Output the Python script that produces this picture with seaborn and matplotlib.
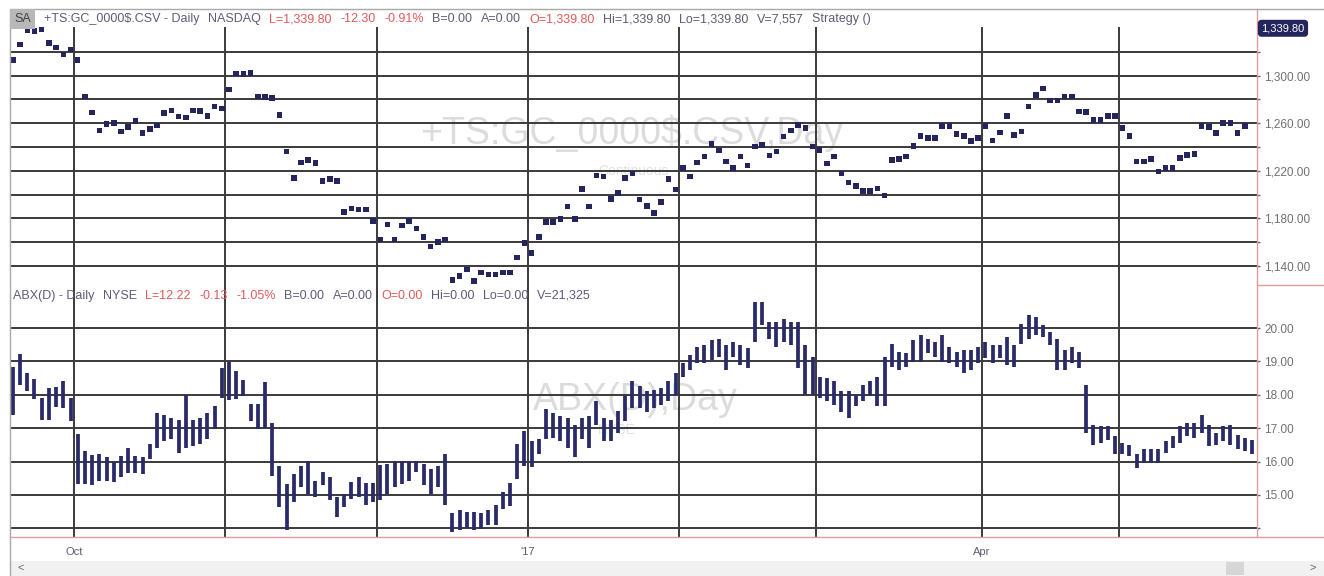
import numpy as np
import pandas as pd
import matplotlib
matplotlib.use('Agg')
import matplotlib.pyplot as plt
import matplotlib.transforms as mtransforms
from matplotlib.lines import Line2D
from matplotlib.patches import Rectangle
import seaborn as sns

sns.set_style("white")
plt.rcParams['font.family'] = ['Liberation Sans', 'DejaVu Sans']

# gold daily close (top panel, dots)
gold_close = [
    1313, 1326, 1338, 1337.6, 1338.7, 1327.5, 1323.6, 1317.8, 1322, 1313,
    1282.3, 1269, 1253.9, 1259.4, 1260, 1253, 1256.6, 1262, 1251.6, 1255.2,
    1258, 1268.4, 1270.6, 1265.6, 1264.7, 1270.6, 1270.3, 1266.1, 1274, 1272.3,
    1288.5, 1301.9, 1301.3, 1302.4, 1282.3, 1281.8, 1281, 1267, 1236.3, 1214,
    1227, 1229.3, 1226.5, 1211.2, 1213.1, 1211.2, 1185.2, 1188.3, 1187.4, 1187.4,
    1177.7, 1162.3, 1174.9, 1162.3, 1174, 1177.7, 1171.5, 1164.5, 1156.2, 1160,
    1162.3, 1128.3, 1131.6, 1137.2, 1127.4, 1134.4, 1133, 1133, 1134.4, 1134.4,
    1147, 1159.5, 1151.1, 1164.3, 1177.1, 1177.1, 1179.6, 1190, 1179.6, 1204.7,
    1190, 1215.9, 1215.3, 1196.4, 1201.4, 1213.9,
    1217.6, 1195.8, 1190.2, 1184.6, 1193.6, 1213.1, 1204.2, 1222.3, 1215.3, 1227.1,
    1232.1, 1242.4, 1237.1, 1227.9, 1222.3, 1232.1, 1224.3, 1240.5, 1241.9, 1232.9,
    1236.3, 1248.8, 1253.9, 1258.6, 1255.8, 1240.5, 1237.7, 1226, 1232.1, 1217.6,
    1210.3, 1207, 1202.8, 1202.8, 1205, 1199.1, 1229.3, 1230.1, 1232.1, 1241,
    1249.4, 1247.4, 1247.4, 1257.8, 1257.8, 1250.8, 1249.4, 1245.2, 1247.4, 1257.8,
    1245.5, 1252.2, 1266.1, 1250.2, 1253, 1274, 1283.7, 1289.3, 1279, 1279,
    1282.3, 1282.3, 1269.8, 1269.2, 1262.8, 1262.8, 1266.1, 1266.1, 1255.8, 1249.4,
    1227.9, 1227.9, 1229.9, 1219.5, 1222.3, 1222.3, 1230.7, 1233.5, 1234.3, 1257.8,
    1256.6, 1251.6, 1260, 1260, 1251.6, 1257.8,
]

# ABX daily high / low (bottom panel, bars)
abx_high = [
    18.84, 19.21, 18.65, 18.47, 17.91, 18.20, 18.22, 18.42, 17.91, 16.82,
    16.32, 16.21, 16.23, 16.13, 15.98, 16.18, 16.42, 16.18, 16.13, 16.52,
    17.46, 17.41, 17.31, 17.26, 18.00, 17.26, 17.31, 17.46, 17.66, 18.79,
    18.99, 18.70, 18.45, 17.71, 17.71, 18.38, 17.16, 15.88, 15.34, 15.63,
    15.88, 16.03, 15.43, 15.68, 15.53, 14.94, 15.02, 15.39, 15.55, 15.36,
    15.36, 15.91, 15.93, 16.03, 16.03, 16.03, 16.03, 15.93, 15.78, 15.88,
    16.23, 14.45, 14.55, 14.50, 14.50, 14.47, 14.55, 14.69, 15.09, 15.36,
    16.52, 16.92, 16.62, 16.69, 17.56, 17.46, 17.36, 17.31, 17.11, 17.31,
    17.36, 17.81, 17.31, 17.26, 17.51, 17.95, 18.40,
    18.25, 18.10, 18.15, 18.20, 18.40, 18.64, 18.94, 19.19, 19.44, 19.50,
    19.63, 19.68, 19.49, 19.58, 19.50, 19.39, 20.77, 20.77, 20.18, 20.18,
    20.28, 20.18, 20.18, 19.49, 19.14, 18.54, 18.50, 18.40, 18.10, 18.10,
    18.00, 18.30, 18.40, 18.54, 19.14, 19.53, 19.29, 19.24, 19.63, 19.78,
    19.68, 19.58, 19.78, 19.44, 19.29, 19.34, 19.34, 19.44, 19.58, 19.49,
    19.49, 19.73, 19.49, 20.13, 20.38, 20.33, 20.08, 19.88, 19.68, 19.34,
    19.44, 19.29, 18.30, 17.11, 17.06, 17.06, 16.76, 16.56, 16.51, 16.22,
    16.37, 16.37, 16.37, 16.61, 16.76, 17.06, 17.16, 17.16, 17.41, 17.11,
    16.86, 17.06, 17.11, 16.81, 16.71, 16.66,
]
abx_low = [
    17.41, 18.30, 18.10, 17.86, 17.26, 17.26, 17.63, 17.61, 17.21, 15.34,
    15.34, 15.29, 15.43, 15.43, 15.38, 15.53, 15.65, 15.65, 15.63, 16.08,
    16.42, 16.62, 16.67, 16.27, 16.42, 16.47, 16.52, 16.67, 16.97, 17.91,
    17.83, 17.86, 17.95, 17.21, 16.97, 17.02, 15.58, 14.64, 13.95, 14.79,
    15.24, 15.04, 14.94, 15.29, 14.84, 14.35, 14.64, 14.89, 14.94, 14.69,
    14.79, 14.84, 15.04, 15.24, 15.34, 15.43, 15.68, 15.29, 15.04, 15.24,
    14.69, 13.90, 13.95, 14.00, 13.95, 13.97, 14.10, 14.10, 14.59, 14.66,
    15.48, 15.88, 15.83, 16.23, 16.67, 16.72, 16.62, 16.42, 16.13, 16.67,
    16.42, 17.11, 16.62, 16.62, 16.87, 17.21, 17.61,
    17.60, 17.50, 17.60, 17.70, 17.80, 18.00, 18.54, 18.74, 18.94, 18.94,
    19.04, 19.14, 18.74, 19.14, 18.89, 18.79, 19.58, 20.08, 19.68, 19.44,
    19.58, 19.49, 18.79, 18.00, 18.00, 17.90, 17.80, 17.70, 17.50, 17.31,
    17.65, 17.80, 17.95, 17.65, 17.65, 18.84, 18.74, 18.84, 18.99, 18.99,
    19.24, 19.14, 18.99, 18.94, 18.84, 18.64, 18.74, 18.94, 19.09, 18.94,
    19.09, 18.89, 18.84, 19.53, 19.68, 19.78, 19.73, 19.49, 18.74, 18.74,
    18.94, 18.79, 16.86, 16.51, 16.56, 16.66, 16.22, 16.22, 16.17, 15.82,
    15.97, 15.97, 15.97, 16.27, 16.42, 16.56, 16.76, 16.71, 16.86, 16.47,
    16.51, 16.61, 16.51, 16.37, 16.32, 16.22,
]

# month boundaries (bar index) and the labelled ones
month_breaks = [8.5, 29.5, 50.5, 71.5, 92.5, 111.5, 134.5, 153.5]
xtick_pos = [8.5, 71.5, 134.5]
xtick_labels = ['Oct', "'17", 'Apr']

gold_grid = [1140, 1160, 1180, 1200, 1220, 1240, 1260, 1280, 1300, 1320]
gold_labelled = [1140, 1180, 1220, 1260, 1300]
abx_grid = [14, 15, 16, 17, 18, 19, 20]
abx_labelled = [15, 16, 17, 18, 19, 20]
last_gold = 1339.80

top_header = [('+TS:GC_0000$.CSV - Daily', 'n'), ('NASDAQ', 'n'), ('L=1,339.80', 'r'),
              ('-12.30', 'r'), ('-0.91%', 'r'), ('B=0.00', 'n'), ('A=0.00', 'n'),
              ('O=1,339.80', 'r'), ('Hi=1,339.80', 'n'), ('Lo=1,339.80', 'n'),
              ('V=7,557', 'n'), ('Strategy ()', 'n')]
bot_header = [('ABX(D) - Daily', 'n'), ('NYSE', 'n'), ('L=12.22', 'r'), ('-0.13', 'r'),
              ('-1.05%', 'r'), ('B=0.00', 'n'), ('A=0.00', 'n'), ('O=0.00', 'r'),
              ('Hi=0.00', 'n'), ('Lo=0.00', 'n'), ('V=21,325', 'n')]

gold_df = pd.DataFrame({'bar': np.arange(len(gold_close)), 'close': gold_close})
abx_df = pd.DataFrame({'bar': np.arange(len(abx_high)), 'high': abx_high, 'low': abx_low})

W, H = 1324, 576
XMIN, XMAX = -0.4, 172.7
GRID = '#3a3a3a'
RED = '#e39b9b'
TXT = '#5c5c78'
TXT_RED = '#e05a5a'
NAVY = '#25255e'


def box(x0, y0, x1, y1):
    return [x0 / W, 1 - y1 / H, (x1 - x0) / W, (y1 - y0) / H]


fig = plt.figure(figsize=(W / 100, H / 100), dpi=100)
ax1 = fig.add_axes(box(10, 9, 1257, 285))
ax2 = fig.add_axes(box(10, 285, 1257, 537))

# watermarks behind everything
ax1.text(632 / W, 1 - 133 / H, '+TS:GC_0000$.CSV,Day', transform=fig.transFigure,
         fontsize=27, color='#dcdcdc', ha='center', va='center', zorder=0)
ax1.text(633 / W, 1 - 171 / H, 'Continuous', transform=fig.transFigure,
         fontsize=10, color='#e2e2e2', ha='center', va='center', zorder=0)
ax2.text(635 / W, 1 - 400 / H, 'ABX(D),Day', transform=fig.transFigure,
         fontsize=27, color='#dcdcdc', ha='center', va='center', zorder=0)
ax2.text(617 / W, 1 - 430 / H, 'NYSE', transform=fig.transFigure,
         fontsize=10, color='#e2e2e2', ha='center', va='center', zorder=0)

# --- top panel: gold ---
ax1.hlines(gold_grid, XMIN, XMAX, color=GRID, lw=1.4, zorder=1)
ax1.vlines(month_breaks, 1124, 1341, color=GRID, lw=1.4, zorder=1)
sns.scatterplot(data=gold_df, x='bar', y='close', ax=ax1, marker='s', s=16,
                color=NAVY, edgecolor='none', linewidth=0, legend=False, zorder=3)
ax1.set_xlim(XMIN, XMAX)
ax1.set_ylim(1124, 1356)
ax1.set_yticks(gold_grid)
ax1.set_yticklabels([f'{v:,.2f}' if v in gold_labelled else '' for v in gold_grid])
ax1.set_xticks([])

# --- bottom panel: ABX ---
ax2.hlines(abx_grid, XMIN, XMAX, color=GRID, lw=1.4, zorder=1)
ax2.vlines(month_breaks, 13.74, 21.29, color=GRID, lw=1.4, zorder=1)
ax2.vlines(abx_df['bar'], abx_df['low'], abx_df['high'], color='#2a2a6a', lw=2.7,
           capstyle='butt', zorder=3)
ax2.set_xlim(XMIN, XMAX)
ax2.set_ylim(13.74, 21.29)
ax2.set_yticks(abx_grid)
ax2.set_yticklabels([f'{v:.2f}' if v in abx_labelled else '' for v in abx_grid])
ax2.set_xticks(xtick_pos)
ax2.set_xticklabels(xtick_labels)

for ax in (ax1, ax2):
    for s in ('left', 'top', 'bottom'):
        ax.spines[s].set_visible(False)
    ax.spines['right'].set_color(RED)
    ax.spines['right'].set_linewidth(1.0)
    ax.yaxis.tick_right()
    ax.tick_params(axis='y', direction='out', length=2.5, width=1, color='#606060',
                   labelsize=8.5, labelcolor='#707070', pad=2.5)
    ax.set_xlabel('')
    ax.set_ylabel('')
ax2.tick_params(axis='x', direction='out', length=6, width=1, color=GRID,
                labelsize=8, labelcolor=TXT, pad=1.5)

# last price marker
trans = mtransforms.blended_transform_factory(ax1.transAxes, ax1.transData)
ax1.text(1.0035, last_gold, f'{last_gold:,.2f}', transform=trans, fontsize=8,
         color='white', va='center', ha='left', zorder=5,
         bbox=dict(boxstyle='round,pad=0.25', fc=NAVY, ec=NAVY))

# frame, separators, scrollbar
fig.add_artist(Line2D([10 / W, 10 / W], [1 - 9 / H, 0], color='#a8a8a8', lw=1))
fig.add_artist(Line2D([10 / W, 1], [1 - 9 / H, 1 - 9 / H], color='#a8a8a8', lw=1))
fig.add_artist(Line2D([10 / W, 1], [1 - 537 / H, 1 - 537 / H], color=RED, lw=1))
fig.add_artist(Line2D([1257 / W, 1], [1 - 285 / H, 1 - 285 / H], color=RED, lw=1))
fig.add_artist(Rectangle((10 / W, 0), 1 - 10 / W, 15 / H, transform=fig.transFigure,
                         fc='#f1f1f1', ec='none'))
fig.add_artist(Rectangle((1226 / W, 1 / H), 18 / W, 13 / H, transform=fig.transFigure,
                         fc='#d6d6d6', ec='none'))
fig.text(17 / W, 1 - 568 / H, '<', fontsize=8, color='#666666', va='center')
fig.text(1310 / W, 1 - 568 / H, '>', fontsize=8, color='#666666', va='center')

# header lines
fig.text(14 / W, 1 - 19 / H, 'SA', fontsize=9, color='#404040', va='center',
         bbox=dict(boxstyle='square,pad=0.3', fc='#b8b8b8', ec='none'))

renderer = fig.canvas.get_renderer()


def header(items, x, y):
    for txt, kind in items:
        t = fig.text(x / W, 1 - y / H, txt, fontsize=9, va='center',
                     color=TXT_RED if kind == 'r' else TXT)
        x = t.get_window_extent(renderer).x1 + 8.5


header(top_header, 44, 19)
header(bot_header, 13, 296)

fig.savefig('out.png', dpi=100, facecolor='white')
